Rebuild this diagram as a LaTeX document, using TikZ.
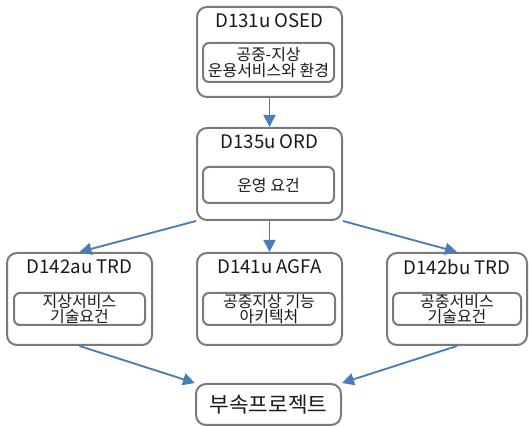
\documentclass[tikz,border=0pt]{standalone}
\usepackage{fontspec}
\setmainfont{Noto Sans CJK KR}
\usetikzlibrary{fit,arrows.meta}
\definecolor{boxgray}{HTML}{7A7A7A}
\definecolor{arrowblue}{HTML}{4A7EBB}
\definecolor{textdark}{HTML}{1A1A1A}
\tikzset{
  outerbox/.style={draw=boxgray, line width=1.5pt, rounded corners=7.5pt, inner sep=0pt, fill=white},
  innerbox/.style={draw=boxgray, line width=1.5pt, rounded corners=4.5pt, inner sep=0pt},
  titletext/.style={text=textdark, font=\fontsize{14}{16}\selectfont, inner sep=0pt},
  bodytext/.style={text=textdark, font=\fontsize{12}{11.5}\selectfont, align=center, inner sep=0pt},
  bigtext/.style={text=textdark, font=\fontsize{16}{18}\selectfont, inner sep=0pt},
  arr/.style={draw=arrowblue, line width=1.4pt, -{Triangle[length=9pt,width=9pt]}},
}
\begin{document}
\begin{tikzpicture}[x=0.75pt, y=-0.75pt]
\useasboundingbox (0,0) rectangle (529,427);

% top: operational services and environment
\node[outerbox, fit={(197,7)(342,97)}] (b1) {};
\node[titletext] (t1) at (269.5,21) {D131u OSED};
\node[innerbox, fit={(203,43)(334,82)}] (i1) {};
\node[bodytext] (s1) at (i1.center) {공중-지상\\운용서비스와 환경};

% operational requirements
\node[outerbox, fit={(197,128)(342,220)}] (b2) {};
\node[titletext] (t2) at (269.5,142) {D135u ORD};
\node[innerbox, fit={(203,167)(334,203)}] (i2) {};
\node[bodytext] (s2) at (i2.center) {운영 요건};

% ground technical requirements
\node[outerbox, fit={(7,253)(152,345)}] (b3) {};
\node[titletext] (t3) at (79.5,267) {D142au TRD};
\node[innerbox, fit={(14,293)(145,325)}] (i3) {};
\node[bodytext] (s3) at (i3.center) {지상서비스\\기술요건};

% functional architecture
\node[outerbox, fit={(197,253)(342,345)}] (b4) {};
\node[titletext] (t4) at (269.5,267) {D141u AGFA};
\node[innerbox, fit={(203,293)(335,325)}] (i4) {};
\node[bodytext] (s4) at (i4.center) {공중지상 기능\\아키텍처};

% air technical requirements
\node[outerbox, fit={(387,253)(527,345)}] (b5) {};
\node[titletext] (t5) at (457,267) {D142bu TRD};
\node[innerbox, fit={(393,293)(521,325)}] (i5) {};
\node[bodytext] (s5) at (i5.center) {공중서비스\\기술요건};

% sub-projects
\node[outerbox, fit={(196,384)(341,425)}] (b6) {};
\node[bigtext] (t6) at (b6.center) {부속프로젝트};

% connectors
\draw[arr] (b1.south) -- (b2.north);
\draw[arr] (b2.south west) -- (b3.north);
\draw[arr] (b2.south) -- (b4.north);
\draw[arr] (b2.south east) -- (b5.north);
\draw[arr] (b3.south) -- (b6.north west);
\draw[arr] (b5.south) -- (b6.north east);
\end{tikzpicture}
\end{document}
